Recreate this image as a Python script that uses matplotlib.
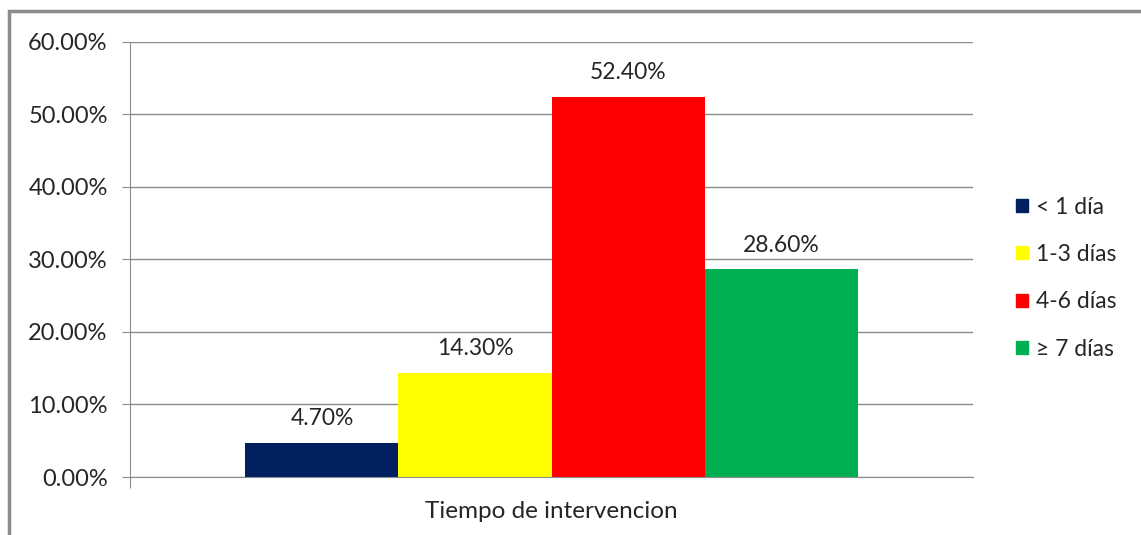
import matplotlib.pyplot as plt
from matplotlib.patches import Rectangle

categories = ["< 1 día", "1-3 días", "4-6 días", "≥ 7 días"]
values = [4.70, 14.30, 52.40, 28.60]
colors = ["#002060", "#FFFF00", "#FF0000", "#00B050"]
x_label = "Tiempo de intervencion"
y_ticks = [0, 10, 20, 30, 40, 50, 60]

plt.rcParams["font.family"] = ["Lato", "DejaVu Sans"]
GRAY = "#8c8c8c"
TEXT = "#262626"

fig = plt.figure(figsize=(11.41, 5.35), dpi=100)
ax = fig.add_axes([0.1139, 0.1084, 0.7389, 0.814])

positions = [i - 1.5 for i in range(len(values))]
ax.bar(positions, values, width=1.0, color=colors, label=categories)
for pos, val in zip(positions, values):
    ax.annotate(f"{val:.2f}%", (pos, val), xytext=(0, 10), textcoords="offset points",
                ha="center", va="bottom", fontsize=16.5, color=TEXT)

ax.set_xlim(-2.755, 2.755)
ax.set_ylim(0, 60)
ax.set_yticks(y_ticks, [f"{t:.2f}%" for t in y_ticks], fontsize=17, color=TEXT)
ax.set_xticks([-2.755], [""])
ax.tick_params(axis="y", length=6, color=GRAY, pad=10)
ax.tick_params(axis="x", length=8, color=GRAY, direction="out")
ax.set_xlabel(x_label, fontsize=17.5, color=TEXT, labelpad=6)
ax.grid(axis="y", color=GRAY, linewidth=1)
ax.set_axisbelow(True)
for side in ("top", "right"):
    ax.spines[side].set_visible(False)
for side in ("left", "bottom"):
    ax.spines[side].set_color(GRAY)

handles = [Rectangle((0, 0), 1, 1, color=c) for c in colors]
fig.legend(handles, categories, loc="center left", bbox_to_anchor=(0.8725, 0.48),
           frameon=False, fontsize=16.5, handlelength=0.5, handleheight=0.5,
           handletextpad=0.35, labelspacing=1.15, labelcolor=TEXT)

fig.patches.append(Rectangle((9 / 1141, -0.1), 1.2, 1 - 11 / 535 + 0.1,
                             transform=fig.transFigure, fill=False,
                             edgecolor=GRAY, linewidth=2.5))

fig.savefig("out.png", dpi=100)
